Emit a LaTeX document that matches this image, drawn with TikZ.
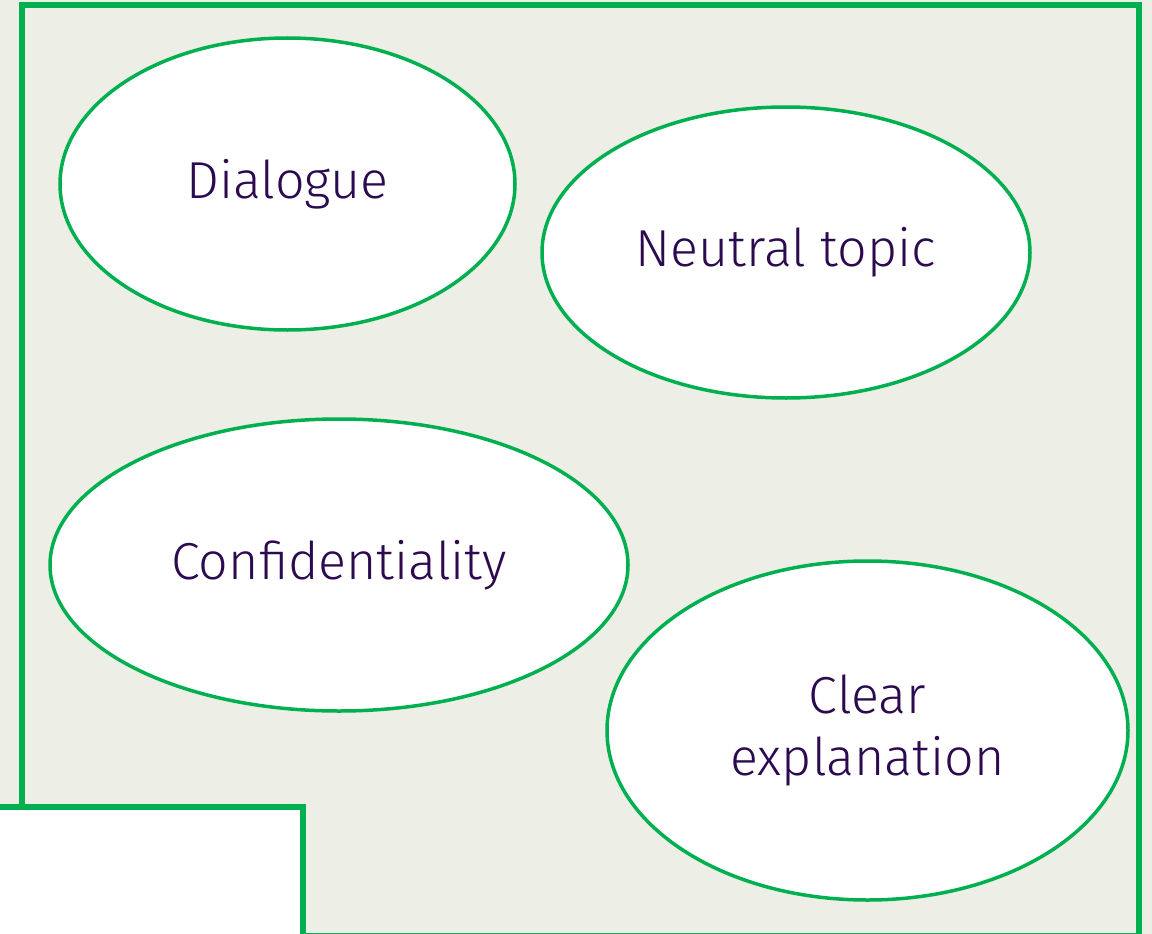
\documentclass[tikz,border=0pt]{standalone}
\usepackage{fontspec}
\setmainfont{Fira Sans Light}
\usetikzlibrary{shapes.geometric}
\definecolor{bgc}{HTML}{EDEEE6}
\definecolor{grn}{HTML}{00B050}
\definecolor{txt}{HTML}{2C0A50}
\tikzset{
  oval/.style={ellipse, draw=grn, line width=3.5pt, fill=white, text=txt,
    font=\fontsize{52}{62}\selectfont, align=center, inner sep=0pt},
  frame/.style={draw=grn, line width=6pt},
}
\begin{document}
\begin{tikzpicture}[x=1pt,y=-1pt]
\useasboundingbox (0,0) rectangle (1152,934);
\clip (0,0) rectangle (1152,934);
\fill[bgc] (0,0) rectangle (1152,934);
\draw[frame] (22,5) rectangle (1139,936);
\node[oval, minimum width=455pt, minimum height=292pt] (dia) at (287.5,184) {Dialogue};
\node[oval, minimum width=488pt, minimum height=291pt] (neu) at (786,252.5) {Neutral topic};
\node[oval, minimum width=578pt, minimum height=292pt] (con) at (339,565) {Confidentiality};
\node[oval, minimum width=521pt, minimum height=339pt] (cle) at (867.5,730.5) {Clear\\explanation};
\draw[frame, fill=white] (-20,807) rectangle (303,960);
\end{tikzpicture}
\end{document}
